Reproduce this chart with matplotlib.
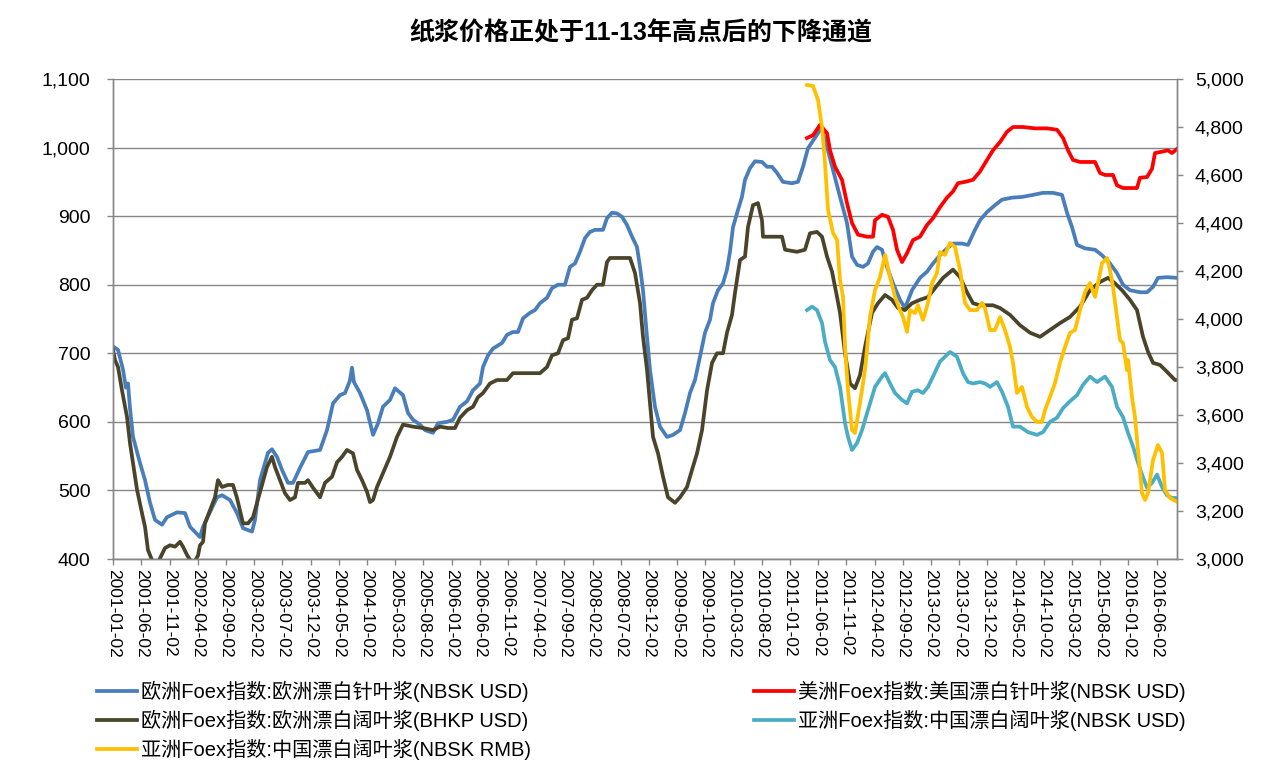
import matplotlib
matplotlib.use("Agg")
import matplotlib.pyplot as plt
from matplotlib.ticker import FuncFormatter, MultipleLocator
import numpy as np

plt.rcParams['font.family'] = ['Liberation Sans', 'Noto Sans CJK SC', 'DejaVu Sans']

title = "纸浆价格正处于11-13年高点后的下降通道"

# ---- data (time in decimal years) ----
eu_nbsk_t = [2001.000, 2001.074, 2001.148, 2001.190, 2001.222, 2001.251, 2001.296, 2001.399, 2001.473, 2001.547,
             2001.621, 2001.724, 2001.798, 2001.946, 2002.064, 2002.138, 2002.285, 2002.330, 2002.537, 2002.611,
             2002.729, 2002.832, 2002.921, 2003.054, 2003.098, 2003.172, 2003.290, 2003.349, 2003.423, 2003.497,
             2003.586, 2003.660, 2003.763, 2003.881, 2004.059, 2004.162, 2004.251, 2004.354, 2004.428, 2004.500,
             2004.531, 2004.560, 2004.650, 2004.753, 2004.842, 2004.916, 2004.989, 2005.093, 2005.167, 2005.285,
             2005.359, 2005.433, 2005.536, 2005.610, 2005.728, 2005.802, 2005.935, 2006.024, 2006.127, 2006.231,
             2006.319, 2006.423, 2006.467, 2006.541, 2006.615, 2006.748, 2006.822, 2006.910, 2006.984, 2007.058,
             2007.161, 2007.235, 2007.309, 2007.413, 2007.486, 2007.575, 2007.678, 2007.752, 2007.826, 2007.900,
             2007.974, 2008.048, 2008.122, 2008.240, 2008.299, 2008.373, 2008.447, 2008.521, 2008.595, 2008.669,
             2008.742, 2008.787, 2008.831, 2008.890, 2008.934, 2009.008, 2009.082, 2009.186, 2009.274, 2009.378,
             2009.452, 2009.525, 2009.599, 2009.673, 2009.747, 2009.821, 2009.865, 2009.939, 2010.013, 2010.072,
             2010.116, 2010.161, 2010.234, 2010.293, 2010.338, 2010.412, 2010.486, 2010.589, 2010.663, 2010.737,
             2010.811, 2010.899, 2011.032, 2011.121, 2011.195, 2011.269, 2011.343, 2011.417, 2011.461, 2011.550,
             2011.639, 2011.742, 2011.845, 2011.919, 2011.993, 2012.081, 2012.155, 2012.229, 2012.288, 2012.362,
             2012.436, 2012.525, 2012.628, 2012.702, 2012.806, 2012.924, 2013.027, 2013.116, 2013.219, 2013.323,
             2013.411, 2013.544, 2013.633, 2013.736, 2013.810, 2013.914, 2014.032, 2014.135, 2014.283, 2014.431,
             2014.593, 2014.741, 2014.889, 2015.022, 2015.096, 2015.170, 2015.244, 2015.362, 2015.510, 2015.613,
             2015.731, 2015.834, 2015.923, 2016.026, 2016.174, 2016.278, 2016.367, 2016.440, 2016.573, 2016.721]
eu_nbsk_v = [710, 705, 676, 650, 656, 620, 578, 540, 515, 482,
             457, 450, 461, 468, 467, 447, 432, 447, 490, 493,
             486, 467, 445, 440, 457, 515, 555, 560, 549, 530,
             511, 511, 533, 556, 559, 588, 627, 639, 642, 660,
             679, 658, 642, 617, 581, 598, 622, 632, 649, 639,
             613, 603, 596, 588, 584, 598, 600, 603, 622, 630,
             646, 656, 680, 697, 707, 715, 727, 731, 731, 751,
             759, 763, 773, 781, 795, 800, 800, 826, 831, 848,
             868, 877, 880, 880, 897, 905, 904, 899, 887, 870,
             855, 826, 792, 724, 676, 622, 593, 578, 581, 588,
             613, 642, 661, 695, 730, 749, 773, 792, 802, 822,
             848, 884, 909, 928, 953, 970, 980, 979, 972, 972,
             963, 950, 948, 950, 972, 999, 1010, 1021, 1030, 1001,
             967, 928, 890, 841, 829, 826, 831, 848, 855, 851,
             826, 802, 778, 766, 792, 810, 819, 831, 843, 853,
             860, 860, 858, 880, 894, 906, 916, 924, 927, 928,
             931, 934, 934, 931, 905, 884, 858, 853, 851, 843,
             831, 817, 800, 792, 789, 789, 797, 810, 811, 810]

eu_bhkp_t = [2001.000, 2001.030, 2001.074, 2001.133, 2001.207, 2001.251, 2001.296, 2001.355, 2001.428, 2001.473,
             2001.517, 2001.591, 2001.665, 2001.768, 2001.842, 2001.916, 2001.990, 2002.034, 2002.093, 2002.182,
             2002.256, 2002.285, 2002.330, 2002.359, 2002.433, 2002.507, 2002.551, 2002.611, 2002.699, 2002.773,
             2002.832, 2002.876, 2002.921, 2002.995, 2003.069, 2003.128, 2003.202, 2003.275, 2003.349, 2003.394,
             2003.467, 2003.541, 2003.615, 2003.689, 2003.733, 2003.837, 2003.881, 2003.955, 2004.059, 2004.132,
             2004.236, 2004.310, 2004.384, 2004.457, 2004.546, 2004.605, 2004.679, 2004.753, 2004.797, 2004.842,
             2004.901, 2004.989, 2005.093, 2005.196, 2005.285, 2005.433, 2005.580, 2005.728, 2005.832, 2005.950,
             2006.053, 2006.127, 2006.231, 2006.319, 2006.393, 2006.467, 2006.570, 2006.674, 2006.822, 2006.910,
             2007.161, 2007.309, 2007.413, 2007.486, 2007.575, 2007.649, 2007.723, 2007.782, 2007.856, 2007.930,
             2008.004, 2008.077, 2008.151, 2008.240, 2008.299, 2008.343, 2008.639, 2008.713, 2008.787, 2008.831,
             2008.890, 2008.934, 2008.979, 2009.053, 2009.127, 2009.200, 2009.304, 2009.378, 2009.481, 2009.555,
             2009.629, 2009.703, 2009.777, 2009.851, 2009.924, 2010.013, 2010.072, 2010.146, 2010.190, 2010.264,
             2010.338, 2010.382, 2010.456, 2010.530, 2010.589, 2010.604, 2010.752, 2010.885, 2010.930, 2011.106,
             2011.224, 2011.298, 2011.402, 2011.476, 2011.550, 2011.624, 2011.698, 2011.742, 2011.816, 2011.890,
             2011.963, 2012.037, 2012.111, 2012.215, 2012.303, 2012.407, 2012.510, 2012.599, 2012.702, 2012.806,
             2012.924, 2013.042, 2013.145, 2013.264, 2013.411, 2013.515, 2013.618, 2013.707, 2013.810, 2014.002,
             2014.106, 2014.254, 2014.401, 2014.549, 2014.697, 2014.844, 2014.992, 2015.140, 2015.288, 2015.436,
             2015.583, 2015.702, 2015.805, 2015.908, 2016.026, 2016.130, 2016.219, 2016.293, 2016.367, 2016.470,
             2016.573, 2016.691, 2016.721]
eu_bhkp_v = [705, 690, 680, 646, 607, 569, 540, 501, 467, 447,
             413, 395, 395, 416, 420, 418, 425, 418, 406, 392,
             405, 420, 425, 452, 471, 490, 515, 505, 508, 508,
             489, 471, 452, 452, 461, 482, 508, 534, 549, 534,
             515, 496, 486, 490, 511, 511, 515, 504, 490, 511,
             520, 541, 549, 559, 554, 530, 515, 498, 483, 486,
             505, 525, 549, 578, 596, 593, 591, 588, 593, 591,
             591, 606, 617, 622, 636, 642, 656, 661, 661, 671,
             671, 671, 680, 697, 700, 719, 722, 749, 751, 778,
             781, 792, 800, 800, 833, 839, 839, 817, 773, 724,
             676, 627, 578, 554, 520, 490, 482, 490, 505, 530,
             554, 588, 646, 686, 700, 700, 730, 756, 788, 836,
             841, 884, 916, 919, 894, 870, 870, 870, 851, 848,
             851, 875, 877, 870, 841, 819, 782, 759, 700, 656,
             649, 668, 709, 759, 773, 785, 778, 766, 763, 773,
             778, 782, 795, 810, 822, 811, 789, 773, 770, 770,
             766, 756, 741, 730, 724, 734, 744, 753, 768, 792,
             804, 810, 802, 792, 778, 763, 724, 702, 686, 683,
             673, 661, 661]

us_nbsk_t = [2011.254, 2011.343, 2011.446, 2011.550, 2011.594, 2011.668, 2011.771, 2011.845, 2011.919, 2012.008,
             2012.141, 2012.229, 2012.259, 2012.362, 2012.451, 2012.525, 2012.584, 2012.658, 2012.732, 2012.820,
             2012.924, 2013.027, 2013.116, 2013.219, 2013.323, 2013.411, 2013.485, 2013.589, 2013.707, 2013.810,
             2013.914, 2014.002, 2014.106, 2014.209, 2014.298, 2014.446, 2014.623, 2014.800, 2014.948, 2015.037,
             2015.111, 2015.184, 2015.288, 2015.510, 2015.583, 2015.657, 2015.776, 2015.834, 2015.923, 2016.130,
             2016.174, 2016.278, 2016.352, 2016.396, 2016.500, 2016.588, 2016.647, 2016.721]
us_nbsk_v = [1014, 1018, 1033, 1021, 996, 972, 953, 919, 890, 873,
             870, 870, 894, 902, 899, 880, 851, 833, 846, 865,
             870, 887, 897, 913, 927, 936, 948, 950, 953, 965,
             982, 996, 1008, 1023, 1030, 1030, 1028, 1028, 1026, 1014,
             996, 982, 979, 979, 963, 960, 960, 945, 941, 941,
             956, 957, 969, 992, 994, 996, 992, 998]

cn_bhkp_usd_t = [2011.254, 2011.328, 2011.402, 2011.476, 2011.520, 2011.594, 2011.668, 2011.742, 2011.816, 2011.860,
                 2011.919, 2011.993, 2012.067, 2012.155, 2012.259, 2012.362, 2012.407, 2012.481, 2012.555, 2012.658,
                 2012.732, 2012.806, 2012.894, 2012.968, 2013.042, 2013.116, 2013.219, 2013.293, 2013.367, 2013.470,
                 2013.559, 2013.633, 2013.707, 2013.810, 2013.884, 2013.958, 2014.061, 2014.135, 2014.224, 2014.298,
                 2014.401, 2014.520, 2014.652, 2014.741, 2014.844, 2014.948, 2015.037, 2015.140, 2015.244, 2015.332,
                 2015.436, 2015.539, 2015.657, 2015.761, 2015.834, 2015.923, 2015.997, 2016.071, 2016.130, 2016.204,
                 2016.278, 2016.352, 2016.426, 2016.500, 2016.573, 2016.647, 2016.721]
cn_bhkp_usd_v = [763, 768, 763, 744, 717, 690, 680, 651, 598, 578,
                 559, 569, 588, 617, 651, 666, 671, 656, 642, 632,
                 627, 644, 646, 642, 651, 666, 688, 695, 702, 695,
                 671, 658, 656, 658, 656, 651, 658, 644, 622, 593,
                 593, 585, 581, 585, 600, 606, 620, 630, 639, 654,
                 666, 658, 666, 651, 622, 607, 584, 564, 545, 523,
                 504, 511, 523, 505, 493, 489, 489]

cn_bhkp_rmb_t = [2011.254, 2011.343, 2011.417, 2011.476, 2011.520, 2011.565, 2011.639, 2011.698, 2011.742, 2011.786,
                 2011.816, 2011.860, 2011.919, 2011.963, 2012.037, 2012.111, 2012.185, 2012.259, 2012.333, 2012.407,
                 2012.481, 2012.555, 2012.628, 2012.673, 2012.732, 2012.776, 2012.850, 2012.894, 2012.968, 2013.042,
                 2013.101, 2013.175, 2013.219, 2013.293, 2013.367, 2013.441, 2013.515, 2013.589, 2013.663, 2013.766,
                 2013.840, 2013.884, 2013.958, 2014.032, 2014.106, 2014.180, 2014.254, 2014.298, 2014.357, 2014.431,
                 2014.505, 2014.579, 2014.652, 2014.726, 2014.771, 2014.844, 2014.918, 2014.992, 2015.066, 2015.140,
                 2015.214, 2015.288, 2015.362, 2015.436, 2015.510, 2015.554, 2015.613, 2015.687, 2015.731, 2015.776,
                 2015.834, 2015.879, 2015.923, 2015.982, 2015.997, 2016.056, 2016.100, 2016.145, 2016.204, 2016.248,
                 2016.293, 2016.367, 2016.440, 2016.500, 2016.544, 2016.618, 2016.721]
cn_bhkp_rmb_v = [4975, 4971, 4912, 4800, 4650, 4454, 4358, 4329, 4162, 4092,
                 3883, 3704, 3537, 3525, 3650, 3787, 4008, 4121, 4175, 4267,
                 4175, 4092, 4037, 4008, 3946, 4037, 4025, 4058, 3996, 4067,
                 4150, 4192, 4279, 4267, 4317, 4300, 4204, 4067, 4037, 4037,
                 4067, 4046, 3954, 3954, 4008, 3954, 3883, 3817, 3692, 3717,
                 3633, 3592, 3571, 3571, 3621, 3675, 3733, 3817, 3883, 3942,
                 3954, 4037, 4112, 4150, 4092, 4150, 4233, 4254, 4204, 4133,
                 4008, 3912, 3900, 3787, 3829, 3675, 3592, 3454, 3275, 3246,
                 3275, 3412, 3475, 3442, 3287, 3254, 3238]

series_names = ["欧洲Foex指数:欧洲漂白针叶浆(NBSK USD)",
                "欧洲Foex指数:欧洲漂白阔叶浆(BHKP USD)",
                "亚洲Foex指数:中国漂白阔叶浆(NBSK RMB)",
                "美洲Foex指数:美国漂白针叶浆(NBSK USD)",
                "亚洲Foex指数:中国漂白阔叶浆(NBSK USD)"]

x_tick_labels = ["2001-01-02", "2001-06-02", "2001-11-02", "2002-04-02", "2002-09-02", "2003-02-02",
                 "2003-07-02", "2003-12-02", "2004-05-02", "2004-10-02", "2005-03-02", "2005-08-02",
                 "2006-01-02", "2006-06-02", "2006-11-02", "2007-04-02", "2007-09-02", "2008-02-02",
                 "2008-07-02", "2008-12-02", "2009-05-02", "2009-10-02", "2010-03-02", "2010-08-02",
                 "2011-01-02", "2011-06-02", "2011-11-02", "2012-04-02", "2012-09-02", "2013-02-02",
                 "2013-07-02", "2013-12-02", "2014-05-02", "2014-10-02", "2015-03-02", "2015-08-02",
                 "2016-01-02", "2016-06-02"]

# ---- figure ----
W, H = 1285, 766
fig = plt.figure(figsize=(W / 100, H / 100), dpi=100)
ax = fig.add_axes([113 / W, 1 - 559 / H, (1177 - 113) / W, (559 - 79) / H])
ax2 = ax.twinx()

grid_c = "#868686"
c_blue, c_brown, c_red, c_teal, c_yellow = "#4A7EBB", "#4A452A", "#FF0000", "#4BACC6", "#FFC000"
lw = 2.7

l1, = ax.plot(eu_nbsk_t, eu_nbsk_v, color=c_blue, lw=lw, solid_joinstyle='round')
l2, = ax.plot(eu_bhkp_t, eu_bhkp_v, color=c_brown, lw=lw, solid_joinstyle='round')
l4, = ax.plot(us_nbsk_t, us_nbsk_v, color=c_red, lw=lw, solid_joinstyle='round')
l5, = ax.plot(cn_bhkp_usd_t, cn_bhkp_usd_v, color=c_teal, lw=lw, solid_joinstyle='round')
l3, = ax2.plot(cn_bhkp_rmb_t, cn_bhkp_rmb_v, color=c_yellow, lw=lw, solid_joinstyle='round')

ax.set_ylim(400, 1100)
ax.yaxis.set_major_locator(MultipleLocator(100))
ax.yaxis.set_major_formatter(FuncFormatter(lambda v, p: f"{int(v):,}"))
ax2.set_ylim(3000, 5000)
ax2.yaxis.set_major_locator(MultipleLocator(200))
ax2.yaxis.set_major_formatter(FuncFormatter(lambda v, p: f"{int(v):,}"))

def dec_year(s):
    y, m, d = (int(p) for p in s.split("-"))
    return y + (m - 1) / 12 + (d - 1) / 365

ax.set_xlim(2001.0, 2016.721)
ax.set_xticks([dec_year(s) for s in x_tick_labels])
ax.set_xticklabels(x_tick_labels, rotation=-90, fontsize=12.5)

ax.grid(axis='y', color=grid_c, lw=1)
ax.set_axisbelow(True)
for a in (ax, ax2):
    a.spines['top'].set_visible(False)
    for s in ('left', 'right', 'bottom'):
        a.spines[s].set_color(grid_c)
        a.spines[s].set_linewidth(1)
tick_len = 4.3
ax.tick_params(axis='both', colors=grid_c, labelcolor='black', direction='out', length=tick_len, width=1)
ax.tick_params(axis='y', labelsize=14, pad=12)
ax.tick_params(axis='x', pad=3)
ax2.tick_params(axis='y', colors=grid_c, labelcolor='black', direction='out', length=tick_len, width=1,
                labelsize=14, pad=8.5)

fig.text(641 / W, 1 - 33 / H, title, ha='center', va='center', fontsize=18, fontweight='bold',
         family=['Liberation Sans', 'Noto Sans CJK SC'])

leg_kw = dict(frameon=False, fontsize=14.5, handlelength=2.0, handletextpad=0.2,
              labelspacing=0.38, borderpad=0, borderaxespad=0)
leg1 = fig.legend([l1, l2, l3], series_names[:3], loc='upper left',
                  bbox_to_anchor=(97 / W, 1 - 681 / H), **leg_kw)
leg2 = fig.legend([l4, l5], series_names[3:], loc='upper right',
                  bbox_to_anchor=(1186 / W, 1 - 681 / H), **leg_kw)

fig.savefig("out.png", dpi=100)
